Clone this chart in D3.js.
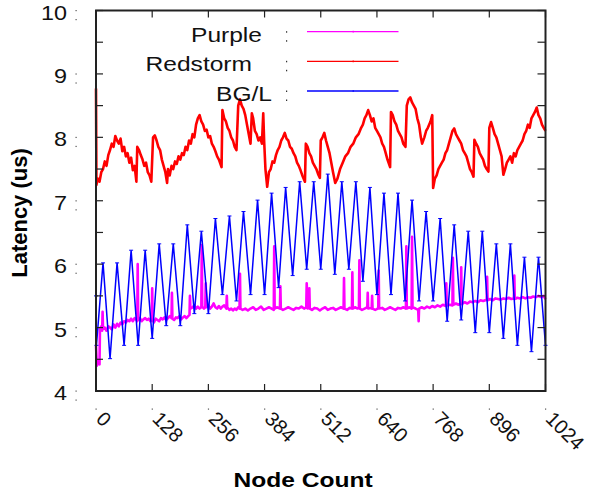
<!DOCTYPE html>
<html>
<head>
<meta charset="utf-8">
<script src="https://cdn.jsdelivr.net/npm/d3@7"></script>
<style>
  body { margin: 0; background: #fff; }
  svg { display: block; font-family: "Liberation Sans", Arial, sans-serif; }
</style>
</head>
<body>
<svg width="590" height="491"></svg>
<script>
// ticks
const xTicks = [0, 128, 256, 384, 512, 640, 768, 896, 1024];
const yTicks = [4, 5, 6, 7, 8, 9, 10];
const yMinorTicks = [4.5, 5.5, 6.5, 7.5, 8.5, 9.5];
const seriesNames = ["Purple", "Redstorm", "BG/L"];
const seriesColors = ["#ff00ff", "#ff0000", "#0000ff"];

// [node count, latency us]
const purpleData = [[0,4.72],[2,4.4],[5,4.48],[8,4.42],[9,4.98],[12,5.02],[14,4.95],[15,5.25],[16,4.98],[20,5.0],[24,4.95],[28,5.02],[32,5.0],[36,4.97],[40,5.05],[44,5.0],[48,5.06],[52,5.02],[56,5.08],[60,5.05],[64,5.1],[68,5.08],[72,5.12],[76,5.1],[80,5.14],[84,5.1],[88,5.15],[92,5.12],[94,5.1],[95,6.0],[96,5.12],[100,5.15],[104,5.1],[108,5.13],[112,5.15],[116,5.12],[120,5.14],[124,5.1],[127,5.12],[128,5.62],[129,5.12],[132,5.08],[136,5.14],[140,5.12],[144,5.1],[148,5.15],[152,5.13],[156,5.16],[160,5.12],[164,5.15],[168,5.18],[172,5.15],[173,5.55],[174,5.14],[178,5.12],[182,5.16],[186,5.15],[190,5.18],[194,5.13],[198,5.16],[202,5.18],[206,5.15],[210,5.18],[213,5.2],[214,5.5],[215,5.3],[220,5.32],[224,5.35],[228,5.3],[232,5.33],[236,5.3],[240,5.32],[241,6.3],[242,5.33],[246,5.3],[249,5.32],[250,5.7],[251,5.32],[256,5.35],[260,5.3],[264,5.33],[268,5.38],[272,5.32],[276,5.3],[280,5.34],[284,5.3],[288,5.33],[292,5.35],[297,5.3],[298,5.5],[299,5.32],[304,5.28],[308,5.3],[312,5.27],[316,5.3],[320,5.28],[324,5.32],[327,5.3],[328,5.85],[329,5.3],[334,5.28],[340,5.3],[346,5.27],[352,5.3],[358,5.32],[364,5.28],[370,5.3],[376,5.33],[382,5.28],[388,5.3],[394,5.32],[400,5.3],[405,5.28],[406,6.28],[407,5.3],[412,5.32],[419,5.3],[420,5.65],[421,5.3],[426,5.28],[432,5.3],[438,5.32],[444,5.3],[450,5.28],[456,5.31],[462,5.3],[468,5.33],[474,5.3],[479,5.32],[480,5.7],[482,5.3],[485,5.31],[486,5.62],[487,5.3],[492,5.28],[498,5.31],[504,5.3],[510,5.27],[516,5.3],[522,5.32],[528,5.28],[534,5.3],[540,5.31],[546,5.28],[552,5.3],[558,5.32],[564,5.3],[565,5.78],[566,5.3],[572,5.28],[578,5.31],[583,5.3],[584,5.87],[585,5.3],[590,5.32],[596,5.3],[599,5.31],[600,6.06],[601,5.3],[606,5.28],[612,5.3],[618,5.32],[619,5.55],[620,5.3],[626,5.31],[628,5.3],[629,5.5],[630,5.3],[636,5.28],[642,5.3],[643,5.32],[644,5.9],[645,5.3],[652,5.31],[658,5.28],[664,5.3],[670,5.32],[676,5.3],[682,5.28],[688,5.31],[694,5.3],[700,5.32],[706,5.3],[707,6.28],[708,5.3],[714,5.32],[719,5.3],[720,6.43],[721,5.32],[728,5.3],[734,5.28],[735,5.1],[736,5.3],[742,5.32],[748,5.3],[754,5.33],[760,5.31],[766,5.34],[772,5.32],[778,5.35],[784,5.33],[790,5.36],[797,5.34],[798,5.7],[799,5.35],[806,5.36],[812,5.35],[813,6.1],[814,5.36],[820,5.38],[826,5.36],[831,5.38],[832,5.95],[833,5.37],[840,5.4],[846,5.38],[852,5.41],[858,5.4],[864,5.42],[870,5.4],[876,5.43],[882,5.42],[890,5.44],[891,5.8],[892,5.43],[898,5.45],[904,5.43],[910,5.46],[916,5.45],[922,5.44],[928,5.46],[934,5.45],[940,5.47],[946,5.45],[952,5.46],[953,5.82],[954,5.45],[960,5.47],[966,5.46],[972,5.48],[978,5.46],[984,5.48],[990,5.47],[996,5.49],[1002,5.48],[1008,5.5],[1014,5.48],[1020,5.5],[1024,5.45]];

const redstormData = [[0,8.77],[1,7.25],[4,7.35],[8,7.3],[12,7.45],[16,7.5],[20,7.62],[24,7.55],[28,7.72],[32,7.8],[36,7.9],[40,7.85],[44,8.02],[48,7.95],[52,7.9],[56,7.98],[60,7.78],[64,7.85],[68,7.7],[72,7.75],[76,7.6],[80,7.68],[84,7.48],[88,7.55],[92,7.3],[94,7.85],[98,7.8],[102,7.72],[106,7.65],[110,7.55],[114,7.6],[118,7.45],[122,7.4],[126,7.3],[130,8.0],[134,8.03],[138,7.95],[142,7.85],[146,7.8],[150,7.65],[154,7.55],[158,7.45],[162,7.28],[164,7.5],[168,7.4],[172,7.55],[176,7.5],[180,7.62],[184,7.58],[188,7.7],[192,7.65],[196,7.75],[200,7.72],[204,7.85],[208,7.8],[212,7.95],[216,7.9],[220,8.05],[224,8.0],[228,8.2],[232,8.3],[236,8.35],[240,8.25],[244,8.2],[248,8.1],[252,8.12],[256,8.0],[260,8.02],[264,7.9],[268,7.85],[272,7.78],[276,7.7],[280,7.65],[286,7.53],[288,8.43],[292,8.3],[296,8.25],[300,8.15],[304,8.1],[308,8.0],[312,7.95],[316,7.85],[320,7.8],[324,8.5],[328,8.6],[332,8.5],[336,8.45],[340,8.35],[344,8.2],[348,8.05],[352,7.9],[355,8.38],[358,8.3],[362,8.1],[366,8.05],[370,7.95],[374,8.0],[378,7.9],[381,8.38],[383,7.95],[386,7.5],[390,7.22],[394,7.45],[398,7.5],[402,7.62],[406,7.6],[410,7.72],[414,7.8],[418,7.85],[422,7.95],[426,8.0],[430,8.07],[434,7.98],[438,7.95],[442,7.85],[446,7.82],[450,7.75],[454,7.7],[458,7.6],[462,7.55],[466,7.48],[470,7.4],[476,7.3],[478,7.9],[482,7.85],[486,7.75],[490,7.7],[494,7.6],[498,7.55],[502,7.5],[506,7.42],[510,7.36],[512,7.95],[516,8.0],[520,8.07],[524,7.95],[528,7.85],[532,7.75],[536,7.6],[540,7.45],[545,7.28],[550,7.35],[556,7.5],[562,7.6],[568,7.7],[574,7.75],[580,7.85],[586,7.9],[592,8.0],[598,8.05],[604,8.15],[608,8.2],[612,8.3],[616,8.35],[620,8.43],[624,8.35],[628,8.25],[632,8.3],[636,8.15],[640,8.1],[644,8.05],[648,8.0],[652,7.9],[656,7.85],[660,7.75],[664,7.65],[670,7.53],[672,8.4],[676,8.35],[680,8.25],[684,8.2],[688,8.1],[692,8.05],[696,8.0],[700,7.9],[705,7.85],[708,8.5],[712,8.6],[716,8.63],[720,8.55],[724,8.5],[728,8.45],[732,8.3],[736,8.2],[740,8.0],[743,7.9],[748,8.0],[752,8.1],[756,8.15],[762,8.25],[766,8.35],[768,7.2],[772,7.35],[776,7.4],[780,7.5],[784,7.55],[788,7.6],[792,7.65],[796,7.75],[800,7.8],[804,7.9],[808,8.0],[812,8.1],[816,8.14],[820,8.05],[824,8.0],[828,7.95],[832,7.9],[836,7.8],[840,7.75],[844,7.7],[848,7.6],[852,7.5],[856,7.45],[860,7.38],[862,7.96],[866,7.9],[870,7.85],[874,7.75],[878,7.7],[882,7.65],[886,7.55],[890,7.5],[894,7.46],[896,8.15],[900,8.24],[904,8.15],[908,8.05],[912,8.0],[916,7.9],[920,7.8],[924,7.7],[928,7.41],[932,7.5],[936,7.6],[940,7.65],[944,7.7],[948,7.6],[952,7.75],[956,7.7],[960,7.8],[964,7.85],[968,7.9],[972,7.95],[976,8.05],[980,8.1],[984,8.2],[988,8.15],[992,8.3],[996,8.35],[1000,8.4],[1004,8.47],[1008,8.35],[1012,8.3],[1016,8.2],[1020,8.15],[1024,8.1]];

const bglData = [[0,5.5],[1,4.72],[16,6.02],[32,4.51],[48,6.02],[64,4.72],[80,6.22],[96,4.72],[112,6.22],[128,4.83],[144,6.32],[160,5.03],[176,6.32],[192,5.03],[208,6.62],[224,5.22],[240,6.52],[256,5.22],[272,6.72],[288,5.52],[304,6.76],[320,5.42],[336,6.83],[352,5.52],[368,7.01],[384,5.52],[400,7.12],[416,5.63],[432,7.21],[448,5.82],[464,7.30],[480,5.92],[496,7.30],[512,5.92],[528,7.42],[544,5.84],[560,7.30],[576,5.92],[592,7.30],[608,5.73],[624,7.21],[640,5.52],[656,7.12],[672,5.52],[688,7.12],[704,5.42],[720,7.01],[736,5.42],[752,6.83],[768,5.42],[784,6.72],[800,5.1],[816,6.62],[832,5.12],[848,6.52],[864,4.92],[880,6.52],[896,4.92],[912,6.32],[928,4.83],[944,6.32],[960,4.72],[976,6.11],[992,4.62],[1008,6.11],[1024,4.72]];

const svg = d3.select("svg");
const x = d3.scaleLinear().domain([0, 1024]).range([96, 545.5]);
const y = d3.scaleLinear().domain([4, 10]).range([391, 10.5]);
const stretch = 1.17; // the horizontal text in the picture is a bit wide

const line = d3.line().x(d => x(d[0])).y(d => y(d[1]));

// plot lines (Purple, Redstorm, then BG/L on top)
svg.append("path").datum(purpleData)
   .attr("fill", "none").attr("stroke", seriesColors[0])
   .attr("stroke-width", 2.6).attr("stroke-linejoin", "round").attr("d", line);
svg.append("path").datum(redstormData)
   .attr("fill", "none").attr("stroke", seriesColors[1])
   .attr("stroke-width", 2.6).attr("stroke-linejoin", "round").attr("d", line);
svg.append("path").datum(bglData)
   .attr("fill", "none").attr("stroke", seriesColors[2])
   .attr("stroke-width", 1.5).attr("d", line);
// little point marks on BG/L
svg.selectAll(".bglpt").data(bglData).enter().append("line")
   .attr("x1", d => x(d[0]) - 2).attr("x2", d => x(d[0]) + 2)
   .attr("y1", d => y(d[1])).attr("y2", d => y(d[1]))
   .attr("stroke", seriesColors[2]).attr("stroke-width", 1);

// frame
const frame = "#222";
svg.append("rect")
   .attr("x", x(0)).attr("y", y(10))
   .attr("width", x(1024) - x(0)).attr("height", y(4) - y(10))
   .attr("fill", "none").attr("stroke", frame).attr("stroke-width", 2);

// x ticks top and bottom, pointing inward
xTicks.forEach(t => {
  svg.append("line").attr("x1", x(t)).attr("x2", x(t)).attr("y1", y(4)).attr("y2", y(4) - 7)
     .attr("stroke", frame).attr("stroke-width", 1.2);
  svg.append("line").attr("x1", x(t)).attr("x2", x(t)).attr("y1", y(10)).attr("y2", y(10) + 7)
     .attr("stroke", frame).attr("stroke-width", 1.2);
  svg.append("rect").attr("x", x(t) - 0.5).attr("y", 408.5).attr("width", 1.2).attr("height", 1.2).attr("fill", "#555");
  svg.append("text")
     .attr("transform", `translate(${x(t) - 1},420) rotate(45)`)
     .attr("font-size", 20).attr("fill", "#111")
     .text(t);
});

// y ticks left and right, every half unit
yTicks.concat(yMinorTicks).forEach(t => {
  svg.append("line").attr("x1", x(0)).attr("x2", x(0) + 7).attr("y1", y(t)).attr("y2", y(t))
     .attr("stroke", frame).attr("stroke-width", 1.2);
  svg.append("line").attr("x1", x(1024)).attr("x2", x(1024) - 8).attr("y1", y(t)).attr("y2", y(t))
     .attr("stroke", frame).attr("stroke-width", 1.2);
});
yTicks.forEach(t => {
  svg.append("text")
     .attr("transform", `translate(67,${y(t) + 9}) scale(${stretch},1)`)
     .attr("text-anchor", "end").attr("font-size", 20).attr("fill", "#111")
     .text(t);
  [0, 9].forEach(o => svg.append("rect").attr("x", 75.5).attr("y", y(t) + o - 0.5)
     .attr("width", 1.2).attr("height", 1.2).attr("fill", "#555"));
});

// axis titles
svg.append("text")
   .attr("transform", `translate(303,487) scale(${stretch},1)`)
   .attr("text-anchor", "middle").attr("font-size", 21).attr("font-weight", "bold")
   .text("Node Count");
svg.append("text")
   .attr("transform", "translate(27,213) rotate(-90)")
   .attr("text-anchor", "middle").attr("font-size", 22).attr("font-weight", "bold")
   .text("Latency (us)");

// legend
const legendY = [31.7, 61.3, 91];
const legendTextEnd = [262, 252, 272];
seriesNames.forEach((name, i) => {
  svg.append("text")
     .attr("transform", `translate(${legendTextEnd[i]},${legendY[i] + 10}) scale(${stretch},1)`)
     .attr("text-anchor", "end").attr("font-size", 21).attr("fill", "#111")
     .text(name);
  [0, 9].forEach(o => svg.append("rect").attr("x", 286).attr("y", legendY[i] + o - 0.5)
     .attr("width", 1.2).attr("height", 1.5).attr("fill", "#333"));
  svg.append("line")
     .attr("x1", 307).attr("x2", 398.5).attr("y1", legendY[i]).attr("y2", legendY[i])
     .attr("stroke", seriesColors[i]).attr("stroke-width", i === 2 ? 1.6 : 1.3);
  svg.append("rect").attr("x", 352.5).attr("y", legendY[i] - 1).attr("width", 1.5).attr("height", 2)
     .attr("fill", seriesColors[i]).attr("opacity", 0.6);
});
</script>
</body>
</html>
